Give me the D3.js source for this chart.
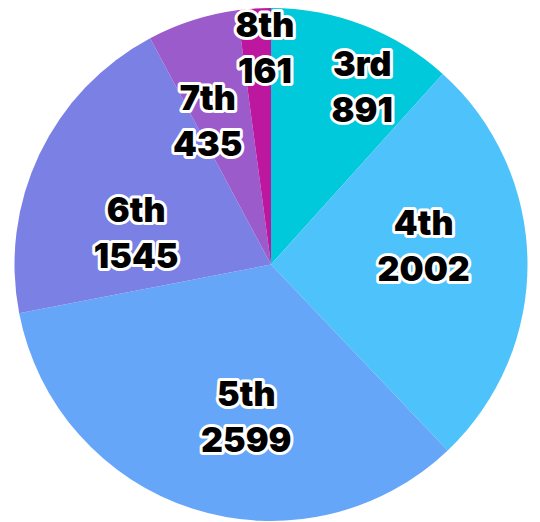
<!DOCTYPE html>
<html>
<head>
<meta charset="utf-8">
<script src="https://cdn.jsdelivr.net/npm/d3@7"></script>
<style>
  html, body { margin: 0; padding: 0; background: #fff; }
  svg { display: block; }
  .lbl { font-family: Inter, Roboto, "Noto Sans", sans-serif; font-weight: 900; font-size: 34px;
         fill: #000; stroke: #fff; stroke-width: 6px; stroke-linejoin: round; paint-order: stroke; }
</style>
</head>
<body>
<div id="chart"></div>
<script>
'use strict';

// slices, clockwise from 12 o'clock
var categories = ['3rd', '4th', '5th', '6th', '7th', '8th'];
var counts     = [891, 2002, 2599, 1545, 435, 161];
var colours    = ['#00c9db', '#4dc2fb', '#66a6f9', '#7b80e5', '#9c5bcb', '#bd169f'];

// label placement: fraction of radius, and angle nudge (deg) from slice middle
var labelRadius = [0.78, 0.60, 0.60, 0.54, 0.615, 0.845];
var labelShift  = [6.1, -6.5, -8.5, -12.3, -5.8, 2.2];

var W = 540, H = 522;
var cx = 271, cy = 264.5, R = 256.5;

var svg = d3.select('#chart').append('svg')
    .attr('width', W)
    .attr('height', H);

var g = svg.append('g')
    .attr('transform', 'translate(' + cx + ',' + cy + ')');

var data = categories.map(function(c, i){ return {cat: c, n: counts[i], i: i}; });

var pie = d3.pie()
    .value(function(d){ return d.n; })
    .sort(null);

var arc = d3.arc().innerRadius(0).outerRadius(R);
var arcs = pie(data);

g.selectAll('path.slice')
    .data(arcs)
    .enter()
    .append('path')
    .attr('class', 'slice')
    .attr('d', arc)
    .style('fill', function(d){ return colours[d.data.i]; });

var labels = g.selectAll('g.lbl')
    .data(arcs)
    .enter()
    .append('g')
    .attr('transform', function(d){
        var i = d.data.i;
        var mid = (d.startAngle + d.endAngle) / 2 + labelShift[i] * Math.PI / 180;
        var lr = R * labelRadius[i];
        var p = d3.arc().innerRadius(lr).outerRadius(lr).centroid({startAngle: mid, endAngle: mid});
        return 'translate(' + p[0] + ',' + p[1] + ')';
    });

labels.append('text')
    .attr('class', 'lbl')
    .attr('text-anchor', 'middle')
    .attr('y', -10.5)
    .text(function(d){ return d.data.cat; });

labels.append('text')
    .attr('class', 'lbl')
    .attr('text-anchor', 'middle')
    .attr('y', 35.5)
    .text(function(d){ return d.data.n; });
</script>
</body>
</html>
